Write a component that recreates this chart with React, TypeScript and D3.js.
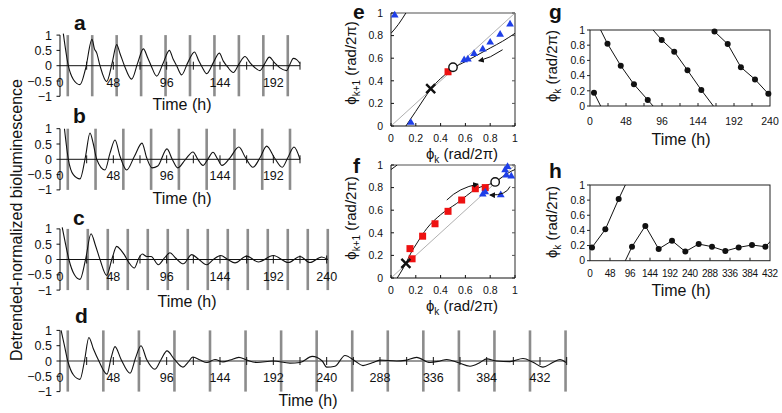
import React from "react";
import * as d3 from "d3";

const FONT = "'Liberation Sans', Arial, Helvetica, sans-serif";

// ---------- Panels a-d: detrended bioluminescence traces [time h, value] ----------
const traceA: [number, number][] = [
  [3, 1.05], [7.5, 0], [12, -0.45], [18, -0.62], [23, -0.1], [28.8, 0.86], [31, 0.55], [33, 0.42], [36, 0],
  [42, -0.52], [47, 0.1], [51, 0.69], [54, 0.4], [58, 0], [64.5, -0.44], [70, 0.1], [75, 0.55], [79, 0.25],
  [82, 0], [87, -0.34], [93, 0.1], [98.4, 0.5], [102, 0.2], [105, 0], [109.5, -0.3], [115, 0.1], [121, 0.45],
  [125, 0.15], [128, -0.05], [132, -0.26], [138, 0.1], [143.4, 0.41], [147, 0.15], [151, -0.05], [156, -0.22],
  [161, 0.05], [166.5, 0.3], [171, 0.1], [175, -0.05], [180, -0.16], [184, 0.05], [188.4, 0.28], [193, 0.1],
  [198, -0.07], [204, -0.16], [207, 0.05], [210, 0.24], [213, 0.2], [216, 0.07],
];
const traceB: [number, number][] = [
  [4, 1.0], [7.5, 0], [12, -0.5], [18, -0.64], [23, 0.1], [27, 0.86], [30, 0.5], [33, 0], [40.5, -0.35],
  [45, 0.2], [49.5, 0.63], [54, 0.1], [60, -0.35], [67, 0.1], [73.8, 0.53], [78, 0.05], [82.8, -0.28],
  [88, -0.22], [96.3, 0.34], [101, 0], [106, -0.28], [113, 0], [119.7, 0.24], [124, 0], [128.7, -0.2],
  [133, 0], [137.7, 0.23], [142, 0], [145.8, -0.2], [153, 0.05], [161, 0.4], [167, 0.05], [173.7, -0.26],
  [180, 0.05], [186, 0.43], [193, 0.05], [200, -0.26], [205, 0.05], [210.6, 0.4], [216, 0.0],
];
const traceC: [number, number][] = [
  [2, 1.05], [5, 0.5], [8, 0], [13, -0.5], [18, -0.65], [23, 0], [27.9, 0.84], [32, 0.45], [36, 0],
  [42, -0.52], [47, 0.05], [51, 0.43], [55, 0.3], [58, 0.15], [62, -0.1], [66.9, -0.28], [71, 0.05],
  [74, 0.18], [78, 0.1], [82, 0.1], [88.5, -0.17], [94, 0.05], [99, 0.22], [104, 0.05], [111, -0.14],
  [118.5, 0.16], [125, 0.0], [132, -0.17], [138, 0], [144.6, 0.13], [151, 0], [157.5, -0.11], [168, 0.11],
  [178.5, -0.08], [192, 0.13], [205.5, -0.1], [216, 0.1], [225, -0.1], [235.5, 0.08], [241, 0],
];
const traceD: [number, number][] = [
  [1, 1.0], [4, 0.5], [7, 0], [12, -0.45], [18, -0.6], [22, 0], [26, 0.77], [30, 0.4], [35, 0], [42.3, -0.43],
  [46, 0.1], [49.5, 0.47], [55, 0.05], [63, -0.4], [68, 0.1], [72.9, 0.5], [78, 0.05], [85.5, -0.27],
  [91, 0.05], [96.3, 0.33], [103, 0.05], [110.7, -0.2], [115, -0.05], [119.7, 0.13], [126, 0.03],
  [132.3, -0.05], [139.5, 0.05], [146.7, -0.03], [153, 0.03], [161, 0.12], [168, 0.03], [177.3, -0.05],
  [191.7, 0], [207, -0.07], [216, -0.05], [227, 0.15], [236, 0], [240, -0.2], [247.5, -0.17], [256.5, 0.18],
  [265.5, 0], [272.7, -0.15], [281, -0.06], [288, 0.03], [303, 0], [310.5, 0.02], [321, 0.12], [333, -0.05],
  [342, 0], [348, 0.05], [358, -0.05], [369, -0.17], [378, -0.05], [384, 0.07], [393, 0], [405, -0.02],
  [416.7, 0.08], [425.7, -0.04], [434.7, -0.2], [443, -0.06], [450, 0.05], [455.4, -0.05],
];

// stimulus times (h)
const pulsesA = [7, 29, 51, 73, 95, 117, 139, 161, 183, 205];
const pulsesB = [7, 32, 57, 82, 107, 132, 157, 182, 207];
const pulsesC = [7, 25, 43, 61, 79, 97, 115, 133, 151, 169, 187, 205, 223, 241];
const pulsesD = [7, 39, 71, 103, 135, 167, 199, 231, 263, 295, 327, 359, 391, 423, 455];

const timeLabelsShort = [0, 48, 96, 144, 192];
const timeLabelsC = [0, 48, 96, 144, 192, 240];
const timeLabelsD = [0, 48, 96, 144, 192, 240, 288, 336, 384, 432];
const valueTicks = [1, 0.5, 0, -0.5, -1];

// ---------- Panels e, f: phase transition maps ----------
const eCurveLow: [number, number][] = [
  [0.12, 0], [0.2, 0.13], [0.26, 0.23], [0.32, 0.325], [0.4, 0.42], [0.46, 0.475], [0.5, 0.51],
  [0.6, 0.57], [0.7, 0.63], [0.8, 0.69], [0.9, 0.75], [1, 0.82],
];
const eCurveHigh: [number, number][] = [[0, 0.82], [0.06, 0.9], [0.12, 1.0]];
const eTriangles: [number, number][] = [
  [0.03, 0.98], [0.16, 0.03], [0.59, 0.585], [0.62, 0.59], [0.67, 0.64], [0.74, 0.68], [0.8, 0.74],
  [0.88, 0.81], [0.96, 0.9],
];
const eSquares: [number, number][] = [[0.46, 0.48]];
const eCross: [number, number][] = [[0.32, 0.33]];
const eCircle: [number, number][] = [[0.5, 0.52]];
const eArrows: number[][] = [[0.9, 0.675, 0.8, 0.6, 0.71, 0.577]];

const fCurveLow: [number, number][] = [
  [0.05, 0], [0.1, 0.09], [0.12, 0.13], [0.16, 0.22], [0.21, 0.31], [0.29, 0.44], [0.4, 0.56],
  [0.53, 0.66], [0.69, 0.79], [0.83, 0.845], [0.97, 0.945], [1, 0.96],
];
const fCurveHigh: [number, number][] = [[0, 0.96], [0.05, 1.0]];
const fTriangles: [number, number][] = [
  [0.74, 0.74], [0.76, 0.76], [0.885, 0.735], [0.92, 0.955], [0.94, 0.985], [0.93, 0.91], [0.97, 0.9],
];
const fSquares: [number, number][] = [
  [0.153, 0.26], [0.17, 0.17], [0.255, 0.37], [0.355, 0.48], [0.46, 0.59], [0.57, 0.69], [0.68, 0.79], [0.76, 0.8],
];
const fCross: [number, number][] = [[0.12, 0.13]];
const fCircle: [number, number][] = [[0.84, 0.85]];
const fArrows: number[][] = [
  [0.45, 0.69, 0.55, 0.8, 0.7, 0.83],
  [0.96, 0.81, 0.93, 0.73, 0.8, 0.735],
];
const mapTicks = [0, 0.2, 0.4, 0.6, 0.8, 1];

// ---------- Panels g, h: phase vs time ----------
const gPhase: [number, number][] = [
  [5.3, 0.175], [23.3, 0.82], [41, 0.53], [58.6, 0.285], [77, 0.08], [95.6, 0.87], [112.3, 0.715],
  [130, 0.47], [148.4, 0.21], [166, 0.98], [183.6, 0.815], [201.2, 0.51], [220, 0.35], [237.8, 0.16],
];
const hPhase: [number, number][] = [
  [4.8, 0.176], [36.8, 0.414], [68.8, 0.815], [100.8, 0.185], [132.8, 0.46], [164.8, 0.155], [196.8, 0.264],
  [228.8, 0.12], [260.8, 0.22], [292.8, 0.185], [324.8, 0.128], [356.8, 0.176], [388.8, 0.207],
  [420.8, 0.185], [452.8, 0.37],
];
const gTimeLabels = [0, 48, 96, 144, 192, 240];
const hTimeLabels = [0, 48, 96, 144, 192, 240, 288, 336, 384, 432];

const PX_PER_H = 53.333 / 48;

function fmt(v: number) {
  const s = String(Math.abs(v));
  return v < 0 ? "\u2212" + s : s;
}

function TracePanel(props: {
  zeroY: number; tMax: number; trace: [number, number][]; pulses: number[]; labels: number[];
  letter: string; lx: number; ly: number; tx: number; ty: number; zeroColor: string; zeroW: number;
}) {
  const { zeroY, tMax, trace, pulses, labels, letter, lx, ly, tx, ty, zeroColor, zeroW } = props;
  const xs = d3.scaleLinear().domain([0, tMax]).range([60, 60 + tMax * PX_PER_H]);
  const ys = d3.scaleLinear().domain([-1, 1]).range([zeroY + 30.6, zeroY - 30.6]);
  const line = d3.line<[number, number]>().x((d) => xs(d[0])).y((d) => ys(d[1])).curve(d3.curveMonotoneX);
  const minor = d3.range(24, tMax + 0.1, 24);
  return (
    <g>
      {pulses.map((t, i) => (
        <line key={"p" + i} x1={xs(t)} x2={xs(t)} y1={ys(1)} y2={ys(-1)} stroke="#8c8c8c" strokeWidth={2.6} />
      ))}
      <line x1={60} x2={xs(tMax)} y1={ys(0)} y2={ys(0)} stroke={zeroColor} strokeWidth={zeroW} />
      {minor.map((t, i) => (
        <line key={"m" + i} x1={xs(t)} x2={xs(t)} y1={ys(0) - 4} y2={ys(0) + 4} stroke="#111" strokeWidth={1} />
      ))}
      <line x1={60} x2={60} y1={ys(1)} y2={ys(-1)} stroke="#111" strokeWidth={1} />
      {valueTicks.map((v, i) => (
        <g key={"y" + i}>
          <line x1={56.5} x2={60} y1={ys(v)} y2={ys(v)} stroke="#111" />
          <text x={52} y={ys(v)} dy="0.36em" textAnchor="end" fontSize={12.5} fontFamily={FONT} fill="#111">
            {fmt(v)}
          </text>
        </g>
      ))}
      {labels.map((t, i) => (
        <text key={"x" + i} x={xs(t)} y={zeroY + 21} textAnchor="middle" fontSize={12.5} fontFamily={FONT} fill="#111">
          {t}
        </text>
      ))}
      <path d={line(trace) || ""} fill="none" stroke="#111" strokeWidth={1.1} />
      <text x={lx} y={ly} fontSize={21} fontWeight="bold" fontFamily={FONT} fill="#111">{letter}</text>
      <text x={tx} y={ty} textAnchor="middle" fontSize={16} fontFamily={FONT} fill="#111">Time (h)</text>
    </g>
  );
}

function MapPanel(props: {
  id: string; yTop: number; yBot: number; curveLow: [number, number][]; curveHigh: [number, number][];
  tri: [number, number][]; sq: [number, number][]; cross: [number, number][]; circ: [number, number][];
  arrows: number[][]; letter: string; ly: number; xTitleY: number; yTitleY: number;
}) {
  const { id, yTop, yBot, curveLow, curveHigh, tri, sq, cross, circ, arrows, letter, ly, xTitleY, yTitleY } = props;
  const xs = d3.scaleLinear().domain([0, 1]).range([391, 515]);
  const ys = d3.scaleLinear().domain([0, 1]).range([yBot, yTop]);
  const line = d3.line<[number, number]>().x((d) => xs(d[0])).y((d) => ys(d[1])).curve(d3.curveMonotoneX);
  const triPath = d3.symbol().type(d3.symbolTriangle).size(26)() || "";
  return (
    <g>
      <defs>
        <clipPath id={"clip" + id}>
          <rect x={xs(0)} y={ys(1)} width={xs(1) - xs(0)} height={ys(0) - ys(1)} />
        </clipPath>
      </defs>
      <line x1={xs(0)} y1={ys(1)} x2={xs(1)} y2={ys(1)} stroke="#8a8a8a" strokeWidth={1.5} />
      <line x1={xs(1)} y1={ys(1)} x2={xs(1)} y2={ys(0)} stroke="#8a8a8a" strokeWidth={1.8} />
      <line x1={xs(0)} y1={ys(0)} x2={xs(1)} y2={ys(1)} stroke="#9a9a9a" strokeWidth={0.8} />
      {mapTicks.map((v, i) => (
        <g key={"t" + i}>
          <line x1={xs(0)} x2={xs(0) + 3} y1={ys(v)} y2={ys(v)} stroke="#111" />
          <line x1={xs(1) - 3} x2={xs(1)} y1={ys(v)} y2={ys(v)} stroke="#555" />
          <line x1={xs(v)} x2={xs(v)} y1={ys(0)} y2={ys(0) - 3} stroke="#111" />
          <text x={383} y={ys(v)} dy="0.36em" textAnchor="end" fontSize={10.5} fontFamily={FONT} fill="#111">{v}</text>
          <text x={xs(v)} y={ys(0) + 16} textAnchor="middle" fontSize={10.5} fontFamily={FONT} fill="#111">{v}</text>
        </g>
      ))}
      <g clipPath={`url(#clip${id})`}>
        <path d={line(curveLow) || ""} fill="none" stroke="#111" strokeWidth={1} />
        <path d={line(curveHigh) || ""} fill="none" stroke="#111" strokeWidth={1} />
      </g>
      <line x1={xs(0)} y1={ys(0)} x2={xs(0)} y2={ys(1)} stroke="#111" strokeWidth={1} />
      <line x1={xs(0)} y1={ys(0)} x2={xs(1)} y2={ys(0)} stroke="#111" strokeWidth={1} />
      {sq.map((d, i) => (
        <rect key={"s" + i} x={xs(d[0]) - 3.5} y={ys(d[1]) - 3.5} width={7} height={7} fill="#ee1111" />
      ))}
      {tri.map((d, i) => (
        <path key={"tr" + i} d={triPath} transform={`translate(${xs(d[0])},${ys(d[1])})`} fill="#1f3fe8" />
      ))}
      {arrows.map((a, i) => (
        <path key={"a" + i}
          d={`M${xs(a[0])},${ys(a[1])} Q${xs(a[2])},${ys(a[3])} ${xs(a[4])},${ys(a[5])}`}
          fill="none" stroke="#111" strokeWidth={1} markerEnd="url(#arrowhead)" />
      ))}
      {cross.map((d, i) => (
        <path key={"c" + i}
          d={`M${xs(d[0]) - 4.5},${ys(d[1]) - 4.5}L${xs(d[0]) + 4.5},${ys(d[1]) + 4.5}M${xs(d[0]) - 4.5},${ys(d[1]) + 4.5}L${xs(d[0]) + 4.5},${ys(d[1]) - 4.5}`}
          stroke="#111" strokeWidth={2.4} />
      ))}
      {circ.map((d, i) => (
        <circle key={"o" + i} cx={xs(d[0])} cy={ys(d[1])} r={4.2} fill="#fff" stroke="#111" strokeWidth={1.4} />
      ))}
      <text x={353} y={ly} fontSize={21} fontWeight="bold" fontFamily={FONT} fill="#111">{letter}</text>
      <text x={462} y={xTitleY} textAnchor="middle" fontSize={15} fontFamily={FONT} fill="#111">
        ϕ<tspan fontSize={10} dy={4}>k</tspan><tspan dy={-4}> (rad/2π)</tspan>
      </text>
      <text transform={`translate(356,${yTitleY}) rotate(-90)`} textAnchor="middle" fontSize={15} fontFamily={FONT} fill="#111">
        ϕ<tspan fontSize={10} dy={4}>k+1</tspan><tspan dy={-4}> (rad/2π)</tspan>
      </text>
    </g>
  );
}

function PhasePanel(props: {
  id: string; yTop: number; yBot: number; tMax: number; pts: [number, number][]; labels: number[];
  letter: string; ly: number; timeY: number; yTitleY: number; tickStep: number; labelSize: number; labelDy: number;
}) {
  const { id, yTop, yBot, tMax, pts, labels, letter, ly, timeY, yTitleY, tickStep, labelSize, labelDy } = props;
  const xs = d3.scaleLinear().domain([0, tMax]).range([590, 770]);
  const ys = d3.scaleLinear().domain([0, 1]).range([yBot, yTop]);
  const segs: [number, number][][] = [];
  for (let i = 0; i < pts.length - 1; i++) {
    const p = pts[i];
    const q = pts[i + 1];
    const d = q[1] - p[1];
    if (d > 0.5) {
      segs.push([p, [q[0], q[1] - 1]]);
      segs.push([[p[0], p[1] + 1], q]);
    } else if (d < -0.5) {
      segs.push([p, [q[0], q[1] + 1]]);
      segs.push([[p[0], p[1] - 1], q]);
    } else segs.push([p, q]);
  }
  const line = d3.line<[number, number]>().x((d) => xs(d[0])).y((d) => ys(d[1]));
  const yt = [0, 0.2, 0.4, 0.6, 0.8, 1];
  const minor = d3.range(tickStep, tMax, tickStep);
  return (
    <g>
      <defs>
        <clipPath id={"clip" + id}>
          <rect x={590} y={yTop} width={180} height={yBot - yTop} />
        </clipPath>
      </defs>
      <rect x={590} y={yTop} width={180} height={yBot - yTop} fill="none" stroke="#222" strokeWidth={1} />
      {yt.map((v, i) => (
        <g key={"y" + i}>
          <line x1={587} x2={590} y1={ys(v)} y2={ys(v)} stroke="#222" />
          <text x={585} y={ys(v)} dy="0.36em" textAnchor="end" fontSize={10.5} fontFamily={FONT} fill="#111">{v}</text>
        </g>
      ))}
      {minor.map((t, i) => (
        <line key={"m" + i} x1={xs(t)} x2={xs(t)} y1={yBot} y2={yBot - 3} stroke="#222" />
      ))}
      {labels.map((t, i) => (
        <text key={"x" + i} x={xs(t)} y={yBot + labelDy} textAnchor="middle" fontSize={labelSize}
          letterSpacing={labelSize < 10.5 ? -0.3 : 0} fontFamily={FONT} fill="#111">{t}</text>
      ))}
      <g clipPath={`url(#clip${id})`}>
        {segs.map((s, i) => (
          <path key={"s" + i} d={line(s) || ""} fill="none" stroke="#111" strokeWidth={1} />
        ))}
      </g>
      {pts.filter((p) => p[0] <= tMax).map((p, i) => (
        <circle key={"c" + i} cx={xs(p[0])} cy={ys(p[1])} r={3} fill="#111" />
      ))}
      <text x={549} y={ly} fontSize={21} fontWeight="bold" fontFamily={FONT} fill="#111">{letter}</text>
      <text x={681} y={timeY} textAnchor="middle" fontSize={16} fontFamily={FONT} fill="#111">Time (h)</text>
      <text transform={`translate(557,${yTitleY}) rotate(-90)`} textAnchor="middle" fontSize={15} fontFamily={FONT} fill="#111">
        ϕ<tspan fontSize={10} dy={4}>k</tspan><tspan dy={-4}> (rad/2π)</tspan>
      </text>
    </g>
  );
}

export default function App() {
  return (
    <svg width={782} height={413} viewBox="0 0 782 413"
      style={{ position: "absolute", left: 0, top: 0, background: "#fff" }}>
      <defs>
        <marker id="arrowhead" viewBox="0 0 10 10" refX="8" refY="5" markerWidth="6" markerHeight="6" orient="auto">
          <path d="M0,0 L10,5 L0,10 z" fill="#111" />
        </marker>
      </defs>
      <rect x={0} y={0} width={782} height={413} fill="#fff" />
      <text transform="translate(22,220) rotate(-90)" textAnchor="middle" fontSize={16} fontFamily={FONT} fill="#111">
        Detrended-normalized bioluminescence
      </text>
      <TracePanel zeroY={65.7} tMax={216} trace={traceA} pulses={pulsesA} labels={timeLabelsShort}
        letter="a" lx={74} ly={30} tx={182} ty={110} zeroColor="#111" zeroW={1} />
      <TracePanel zeroY={159.3} tMax={216} trace={traceB} pulses={pulsesB} labels={timeLabelsShort}
        letter="b" lx={73} ly={123} tx={182} ty={204} zeroColor="#111" zeroW={1} />
      <TracePanel zeroY={259.5} tMax={241} trace={traceC} pulses={pulsesC} labels={timeLabelsC}
        letter="c" lx={73} ly={225} tx={187} ty={307} zeroColor="#111" zeroW={1} />
      <TracePanel zeroY={361} tMax={456} trace={traceD} pulses={pulsesD} labels={timeLabelsD}
        letter="d" lx={75} ly={323} tx={308} ty={406} zeroColor="#777" zeroW={1.5} />
      <MapPanel id="e" yTop={13} yBot={126} curveLow={eCurveLow} curveHigh={eCurveHigh} tri={eTriangles}
        sq={eSquares} cross={eCross} circ={eCircle} arrows={eArrows} letter="e" ly={19} xTitleY={159} yTitleY={63} />
      <MapPanel id="f" yTop={165} yBot={278} curveLow={fCurveLow} curveHigh={fCurveHigh} tri={fTriangles}
        sq={fSquares} cross={fCross} circ={fCircle} arrows={fArrows} letter="f" ly={173} xTitleY={311} yTitleY={218} />
      <PhasePanel id="g" yTop={30} yBot={106} tMax={240} pts={gPhase} labels={gTimeLabels}
        letter="g" ly={19} timeY={145} yTitleY={66} tickStep={24} labelSize={10.5} labelDy={19} />
      <PhasePanel id="h" yTop={185} yBot={260.7} tMax={432} pts={hPhase} labels={hTimeLabels}
        letter="h" ly={178} timeY={296} yTitleY={222} tickStep={48} labelSize={10} labelDy={16} />
    </svg>
  );
}
